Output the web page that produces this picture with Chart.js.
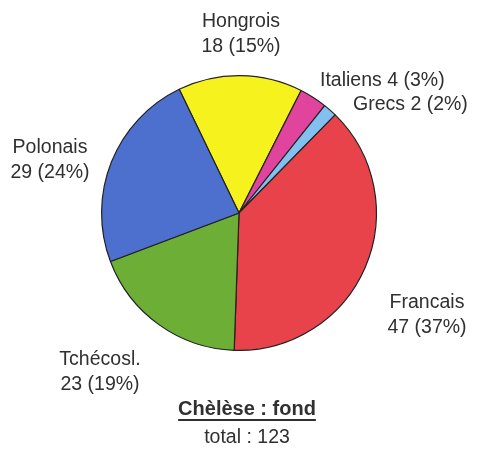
<!DOCTYPE html>
<html>
<head>
<meta charset="utf-8">
<script src="https://cdn.jsdelivr.net/npm/chart.js@4/dist/chart.umd.min.js"></script>
<style>
html,body{margin:0;padding:0;background:#fff;}
#wrap{position:relative;width:478px;height:450px;}
</style>
</head>
<body>
<div id="wrap"><canvas id="c" width="478" height="450"></canvas></div>
<script>
const categories = ["Hongrois", "Italiens", "Grecs", "Francais", "Tchécosl.", "Polonais"];
const counts = [18, 4, 2, 47, 23, 29];
const percents = [15, 3, 2, 37, 19, 24];
const colors = ["#f6f21e", "#e0449c", "#82c0f0", "#e8434b", "#6cae36", "#4d6fce"];
const titleText = "Chèlèse : fond";
const totalText = "total : 123";

// label layout: offset from pie centre (px), alignment, one or two lines
const labelLayout = [
  {dx: 2, dy: -186, align: "center", twoLines: true},
  {dx: 81, dy: -127, align: "left", twoLines: false},
  {dx: 114, dy: -103, align: "left", twoLines: false},
  {dx: 188, dy: 95, align: "center", twoLines: true},
  {dx: -139, dy: 152, align: "center", twoLines: true},
  {dx: -189, dy: -60, align: "center", twoLines: true}
];

const FONT = '19.5px "Liberation Sans", Arial, sans-serif';
const labelPlugin = {
  id: 'labels',
  afterDraw(chart) {
    const ctx = chart.ctx;
    const arcs = chart.getDatasetMeta(0).data;
    const cx = arcs[0].x, cy = arcs[0].y;
    ctx.save();
    ctx.fillStyle = '#303030';
    ctx.font = FONT;
    ctx.textBaseline = 'alphabetic';
    categories.forEach((cat, i) => {
      const L = labelLayout[i];
      ctx.textAlign = L.align;
      const x = cx + L.dx, y = cy + L.dy;
      const val = counts[i] + ' (' + percents[i] + '%)';
      if (L.twoLines) {
        ctx.fillText(cat, x, y);
        ctx.fillText(val, x, y + 25);
      } else {
        ctx.fillText(cat + ' ' + val, x, y);
      }
    });
    // title
    ctx.textAlign = 'center';
    ctx.font = 'bold 20px "Liberation Sans", Arial, sans-serif';
    const tx = cx + 8, ty = cy + 202;
    ctx.fillText(titleText, tx, ty);
    const w = ctx.measureText(titleText).width;
    ctx.fillRect(tx - w / 2, ty + 4, w, 2);
    ctx.font = FONT;
    ctx.fillText(totalText, tx, ty + 28);
    ctx.restore();
  }
};

new Chart(document.getElementById('c'), {
  type: 'pie',
  data: {
    labels: categories,
    datasets: [{
      data: counts,
      backgroundColor: colors,
      borderColor: '#222',
      borderWidth: 1.2
    }]
  },
  options: {
    responsive: false,
    animation: false,
    rotation: -25.8,
    layout: {padding: {top: 75, bottom: 99, left: 0, right: 0}},
    plugins: {legend: {display: false}, tooltip: {enabled: false}, title: {display: false}}
  },
  plugins: [labelPlugin]
});
</script>
</body>
</html>
